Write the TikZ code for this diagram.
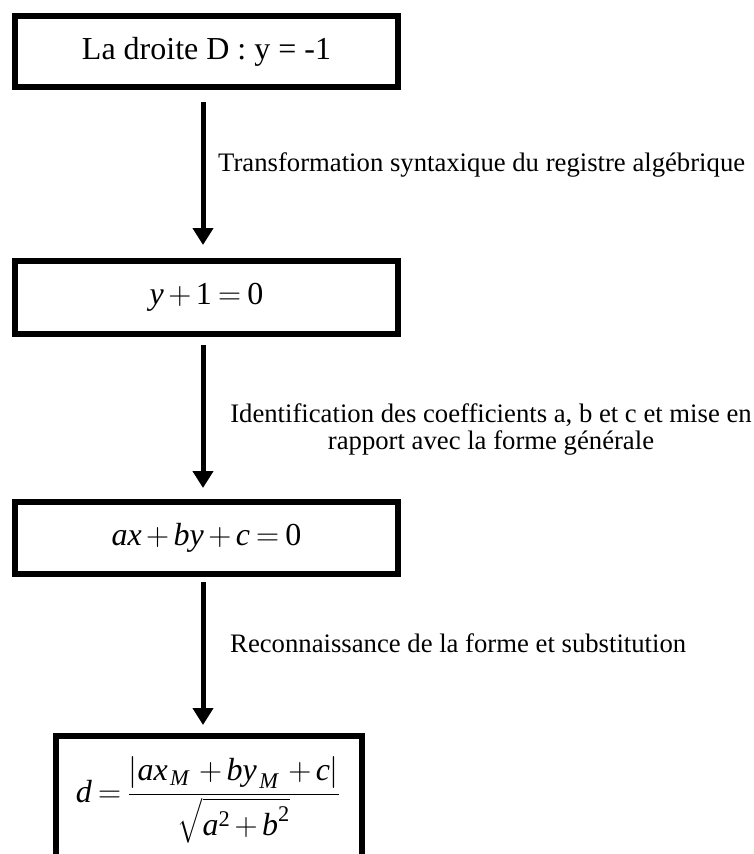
\RequirePackage{fix-cm}
\documentclass[tikz,border=0pt]{standalone}
\usepackage{amsmath}
\usepackage{fontspec}
\setmainfont{Liberation Serif}
\usetikzlibrary{arrows.meta}
\newcommand{\mi}[1]{\textit{#1}}
\newcommand{\mr}[1]{\textrm{#1}}
\medmuskip=2.5mu plus 1mu
\thickmuskip=3.5mu plus 1mu
\begin{document}
\begin{tikzpicture}[x=1pt,y=-1pt,
  box/.style={draw, line width=6pt, inner sep=0pt, font=\fontsize{32}{38}\selectfont},
  flow/.style={line width=5pt, -{Triangle[length=17pt,width=20pt]}},
  lbl/.style={inner sep=0pt, font=\fontsize{26.7}{27}\selectfont}]
\useasboundingbox (0,0) rectangle (754,854);
\clip (0,0) rectangle (754,854);
\coordinate (ax) at (203,0);
\node[box, minimum width=383pt, minimum height=71pt] (b1) at (206.5,51.5) {La droite D : y = -1};
\node[box, minimum width=383pt, minimum height=73pt] (b2) at (206.5,297.5) {$\mi{y}+\mr{1}=\mr{0}$};
\node[box, minimum width=383pt, minimum height=72pt] (b3) at (206.5,538) {$\mi{ax}+\mi{by}+\mi{c}=\mr{0}$};
\node[box, minimum width=306pt, minimum height=140pt, anchor=north] (b4) at (209,733) {};
\node[inner sep=0pt, font=\fontsize{32}{38}\selectfont] (f4) at (208,800)
  {$\displaystyle \mi{d}=\frac{\left|\mi{ax\/}_{\mkern2mu\mi{M}}\mkern3mu+\mi{by\/}_{\mkern2mu\mi{M}}\mkern3mu+\mi{c\/}\right|}{\sqrt{\mi{a}^{\mr{2}}+\mi{b}^{\mr{2}}}}$};
\draw[flow, shorten <=12pt, shorten >=13pt] (b1.south -| ax) -- (b2.north -| ax);
\draw[flow, shorten <=8pt, shorten >=11pt] (b2.south -| ax) -- (b3.north -| ax);
\draw[flow, shorten <=5pt, shorten >=8pt] (b3.south -| ax) -- (b4.north -| ax);
\node[lbl, anchor=base west] (l1) at (218,171) {Transformation syntaxique du registre algébrique};
\node[lbl, anchor=north, align=center] (l2) at (491,403) {Identification des coefficients a, b et c et mise en\\rapport avec la forme générale};
\node[lbl, anchor=base west] (l3) at (230,652) {Reconnaissance de la forme et substitution};
\end{tikzpicture}
\end{document}
